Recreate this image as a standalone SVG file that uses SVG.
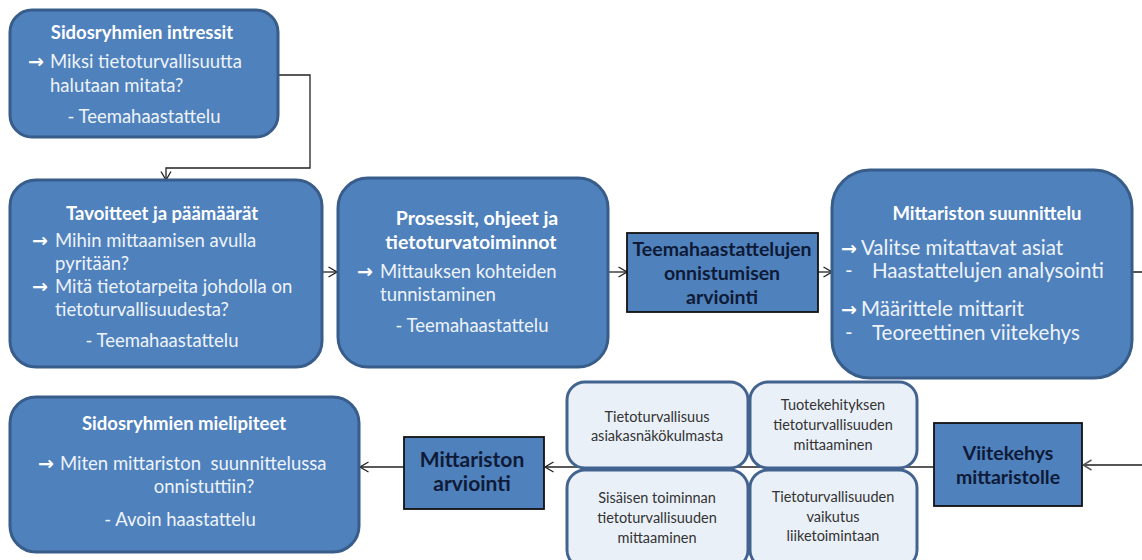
<svg xmlns="http://www.w3.org/2000/svg" width="1142" height="560" viewBox="0 0 1142 560">
  <defs>
    <marker id="chev" viewBox="0 0 10 12" refX="9.5" refY="6" markerWidth="10" markerHeight="12" markerUnits="userSpaceOnUse" orient="auto">
      <path d="M1,1 L9.5,6 L1,11" fill="none" stroke="#222" stroke-width="1.3"/>
    </marker>
    <marker id="chevGrey" viewBox="0 0 10 12" refX="9.5" refY="6" markerWidth="10" markerHeight="12" markerUnits="userSpaceOnUse" orient="auto">
      <path d="M1,1 L9.5,6 L1,11" fill="none" stroke="#555" stroke-width="1.5"/>
    </marker>
  </defs>
  <style>
    .round { fill: #4F81BD; stroke: #385D8A; stroke-width: 3; }
    .square { fill: #4F81BD; stroke: #111; stroke-width: 1.8; }
    .pale { fill: #EAF0F8; stroke: #43638F; stroke-width: 3; }
    .title { font-family: Lato, "Liberation Sans", sans-serif; font-weight: bold; font-size: 18.5px; fill: #FFFFFF; text-anchor: middle; }
    .body { font-family: Lato, "Liberation Sans", sans-serif; font-size: 18.5px; fill: #EEF3FA; }
    .big { font-size: 20.5px; }
    .mid { text-anchor: middle; }
    .arr { font-family: "DejaVu Sans", sans-serif; font-size: 19px; fill: #FFFFFF; font-weight: bold; }
    .dark { font-family: Lato, "Liberation Sans", sans-serif; font-weight: bold; font-size: 19.5px; fill: #0E1A36; text-anchor: middle; }
    .small { font-family: Lato, "Liberation Sans", sans-serif; font-size: 14.5px; fill: #333333; text-anchor: middle; }
    .link { fill: none; stroke: #222; stroke-width: 1.3; }
    .linkGrey { fill: none; stroke: #555; stroke-width: 2; }
  </style>

  <rect width="1142" height="560" fill="#FFFFFF"/>

  <!-- connectors -->
  <g id="connectors">
    <path class="link" d="M279,75 H310 V168 H166 V180" marker-end="url(#chev)"/>
    <path class="link" d="M322,272 H337" marker-end="url(#chev)"/>
    <path class="link" d="M608,272 H627" marker-end="url(#chev)"/>
    <path class="link" d="M818,272 H832" marker-end="url(#chev)"/>
    <path class="linkGrey" d="M1132,272 H1146 V465 H1083" marker-end="url(#chevGrey)"/>
    <path class="link" d="M934,467 H545" marker-end="url(#chev)"/>
    <path class="link" d="M404,467 H360" marker-end="url(#chev)"/>
  </g>

  <!-- Sidosryhmien intressit -->
  <g id="intressit">
    <rect class="round" x="10" y="10" width="268" height="127" rx="22"/>
    <text class="title" x="142" y="39">Sidosryhmien intressit</text>
    <text class="arr" x="28" y="68">→</text>
    <text class="body" x="50" y="68">Miksi tietoturvallisuutta</text>
    <text class="body" x="50" y="92">halutaan mitata?</text>
    <text class="body mid" x="144" y="123">- Teemahaastattelu</text>
  </g>

  <!-- Tavoitteet ja päämäärät -->
  <g id="tavoitteet">
    <rect class="round" x="10" y="180" width="312" height="187" rx="26"/>
    <text class="title" x="162" y="220">Tavoitteet ja päämäärät</text>
    <text class="arr" x="32" y="247">→</text>
    <text class="body" x="55" y="247">Mihin mittaamisen avulla</text>
    <text class="body" x="55" y="270">pyritään?</text>
    <text class="arr" x="32" y="293">→</text>
    <text class="body" x="55" y="293">Mitä tietotarpeita johdolla on</text>
    <text class="body" x="55" y="316">tietoturvallisuudesta?</text>
    <text class="body mid" x="162" y="347">- Teemahaastattelu</text>
  </g>

  <!-- Prosessit, ohjeet ja tietoturvatoiminnot -->
  <g id="prosessit">
    <rect class="round" x="338" y="178" width="270" height="189" rx="30"/>
    <text class="title" x="477" y="225" style="font-size:19.5px">Prosessit, ohjeet ja</text>
    <text class="title" x="471" y="249" style="font-size:19.5px">tietoturvatoiminnot</text>
    <text class="arr" x="357" y="278">→</text>
    <text class="body" x="380" y="278">Mittauksen kohteiden</text>
    <text class="body" x="380" y="301">tunnistaminen</text>
    <text class="body mid" x="472" y="332">- Teemahaastattelu</text>
  </g>

  <!-- Teemahaastattelujen onnistumisen arviointi -->
  <g id="onnistuminen">
    <rect class="square" x="627" y="233" width="191" height="79"/>
    <text class="dark" x="722" y="256">Teemahaastattelujen</text>
    <text class="dark" x="722" y="280">onnistumisen</text>
    <text class="dark" x="722" y="304">arviointi</text>
  </g>

  <!-- Mittariston suunnittelu -->
  <g id="suunnittelu">
    <rect class="round" x="832" y="170" width="300" height="208" rx="38"/>
    <text class="title" x="987" y="220">Mittariston suunnittelu</text>
    <text class="arr" x="841" y="255">→</text>
    <text class="body big" x="861" y="255">Valitse mitattavat asiat</text>
    <text class="body big" x="845" y="278">-</text>
    <text class="body big" x="872" y="278">Haastattelujen analysointi</text>
    <text class="arr" x="841" y="316">→</text>
    <text class="body big" x="861" y="316">Määrittele mittarit</text>
    <text class="body big" x="845" y="340">-</text>
    <text class="body big" x="872" y="340">Teoreettinen viitekehys</text>
  </g>

  <!-- Viitekehys mittaristolle -->
  <g id="viitekehys">
    <rect class="square" x="934" y="423" width="148" height="83"/>
    <text class="dark" x="1008" y="460">Viitekehys</text>
    <text class="dark" x="1008" y="484">mittaristolle</text>
  </g>

  <!-- framework areas -->
  <g id="asiakas">
    <rect class="pale" x="567" y="382" width="181" height="86" rx="18"/>
    <text class="small" x="657" y="422">Tietoturvallisuus</text>
    <text class="small" x="657" y="441">asiakasnäkökulmasta</text>
  </g>
  <g id="tuotekehitys">
    <rect class="pale" x="750" y="382" width="167" height="86" rx="18"/>
    <text class="small" x="833" y="410">Tuotekehityksen</text>
    <text class="small" x="833" y="430">tietoturvallisuuden</text>
    <text class="small" x="833" y="450">mittaaminen</text>
  </g>
  <g id="sisainen">
    <rect class="pale" x="567" y="470" width="181" height="98" rx="18"/>
    <text class="small" x="657" y="503">Sisäisen toiminnan</text>
    <text class="small" x="657" y="523">tietoturvallisuuden</text>
    <text class="small" x="657" y="543">mittaaminen</text>
  </g>
  <g id="liiketoiminta">
    <rect class="pale" x="750" y="470" width="167" height="98" rx="18"/>
    <text class="small" x="833" y="502">Tietoturvallisuuden</text>
    <text class="small" x="833" y="522">vaikutus</text>
    <text class="small" x="833" y="541">liiketoimintaan</text>
  </g>

  <!-- Mittariston arviointi -->
  <g id="arviointi">
    <rect class="square" x="404" y="437" width="140" height="72"/>
    <text class="dark" x="472" y="467" style="font-size:21px">Mittariston</text>
    <text class="dark" x="472" y="491" style="font-size:21px">arviointi</text>
  </g>

  <!-- Sidosryhmien mielipiteet -->
  <g id="mielipiteet">
    <rect class="round" x="10" y="397" width="349" height="155" rx="26"/>
    <text class="title" x="184" y="430">Sidosryhmien mielipiteet</text>
    <text class="arr" x="38" y="470">→</text>
    <text class="body" x="60" y="470" xml:space="preserve">Miten mittariston  suunnittelussa</text>
    <text class="body mid" x="204" y="493">onnistuttiin?</text>
    <text class="body mid" x="180" y="526">- Avoin haastattelu</text>
  </g>
</svg>
